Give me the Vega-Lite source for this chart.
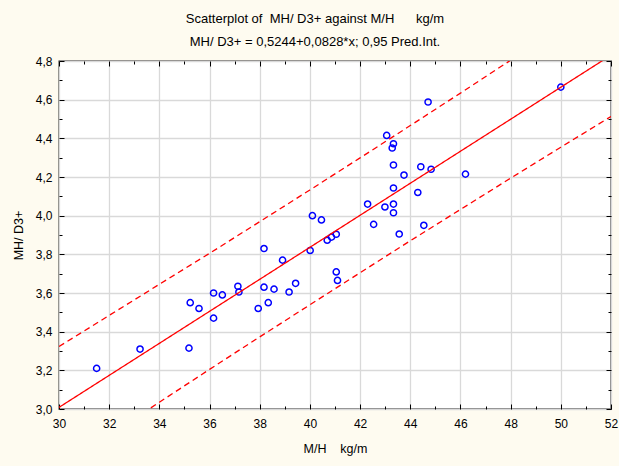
{
  "$schema": "https://vega.github.io/schema/vega-lite/v6.json",
  "width": 552,
  "height": 348,
  "autosize": "none",
  "padding": {"left": 59, "top": 61, "right": 8, "bottom": 57},
  "background": "#FEFBF0",
  "config": {
    "font": "Liberation Sans",
    "view": {"stroke": "black", "strokeWidth": 1.3, "fill": "white"}
  },
  "title": {
    "text": "Scatterplot of\u00a0\u00a0MH/ D3+ against M/H\u00a0\u00a0\u00a0\u00a0\u00a0\u00a0kg/m",
    "subtitle": "MH/ D3+ = 0,5244+0,0828*x; 0,95 Pred.Int.",
    "frame": "bounds",
    "anchor": "middle",
    "font": "Liberation Sans",
    "fontSize": 13,
    "fontWeight": "normal",
    "color": "black",
    "subtitleFont": "Liberation Sans",
    "subtitleFontSize": 13,
    "subtitleColor": "black",
    "subtitlePadding": 10,
    "offset": 6
  },
  "resolve": {"axis": {"x": "independent", "y": "independent"}},
  "layer": [
    {
      "data": {"values": [
        {"x": 31.50, "y": 3.21}, {"x": 33.23, "y": 3.31}, {"x": 35.18, "y": 3.315},
        {"x": 35.23, "y": 3.55}, {"x": 35.58, "y": 3.52}, {"x": 36.16, "y": 3.60},
        {"x": 36.16, "y": 3.47}, {"x": 36.51, "y": 3.59}, {"x": 37.13, "y": 3.635},
        {"x": 37.17, "y": 3.605}, {"x": 37.94, "y": 3.52}, {"x": 38.17, "y": 3.83},
        {"x": 38.17, "y": 3.63}, {"x": 38.34, "y": 3.55}, {"x": 38.57, "y": 3.62},
        {"x": 38.91, "y": 3.77}, {"x": 39.17, "y": 3.605}, {"x": 39.43, "y": 3.65},
        {"x": 40.01, "y": 3.82}, {"x": 40.10, "y": 4.00}, {"x": 40.46, "y": 3.978},
        {"x": 40.69, "y": 3.873}, {"x": 40.86, "y": 3.889}, {"x": 41.05, "y": 3.904},
        {"x": 41.05, "y": 3.709}, {"x": 41.10, "y": 3.665}, {"x": 42.30, "y": 4.06},
        {"x": 42.54, "y": 3.955}, {"x": 42.99, "y": 4.045}, {"x": 43.06, "y": 4.415},
        {"x": 43.33, "y": 4.372}, {"x": 43.28, "y": 4.35}, {"x": 43.33, "y": 4.262},
        {"x": 43.33, "y": 4.143}, {"x": 43.33, "y": 4.06}, {"x": 43.33, "y": 4.015},
        {"x": 43.56, "y": 3.905}, {"x": 43.75, "y": 4.21}, {"x": 44.30, "y": 4.12},
        {"x": 44.42, "y": 4.253}, {"x": 44.54, "y": 3.95}, {"x": 44.83, "y": 4.24},
        {"x": 44.71, "y": 4.588}, {"x": 46.20, "y": 4.215}, {"x": 50.00, "y": 4.665}
      ]},
      "mark": {"type": "point", "shape": "circle", "filled": false, "color": "#0000FF", "size": 38, "strokeWidth": 1.5, "opacity": 1},
      "encoding": {
        "x": {
          "field": "x", "type": "quantitative",
          "scale": {"domain": [30, 52], "nice": false, "zero": false},
          "axis": {
            "orient": "bottom",
            "title": "M/H\u00a0\u00a0\u00a0\u00a0kg/m",
            "titleFont": "Liberation Sans", "titleFontSize": 12.5, "titleFontWeight": "normal", "titleColor": "black",
            "titlePadding": 11,
            "values": [30,31,32,33,34,35,36,37,38,39,40,41,42,43,44,45,46,47,48,49,50,51,52],
            "labelExpr": "datum.value % 2 === 0 ? datum.label : ''",
            "labelFont": "Liberation Sans", "labelFontSize": 12, "labelColor": "black",
            "labelFlush": false, "labelOverlap": false, "labelPadding": 14,
            "domain": false,
            "grid": true,
            "gridColor": "#D9D9D9", "gridWidth": 1.3,
            "gridOpacity": {"condition": {"test": "datum.value % 2 === 0", "value": 1}, "value": 0},
            "ticks": true, "tickColor": "black", "tickWidth": 1,
            "tickSize": {"condition": {"test": "datum.value % 2 === 0", "value": -5}, "value": -3}
          }
        },
        "y": {
          "field": "y", "type": "quantitative",
          "scale": {"domain": [3.0, 4.8], "nice": false, "zero": false},
          "axis": {
            "orient": "left",
            "title": "MH/ D3+",
            "titleFont": "Liberation Sans", "titleFontSize": 12.5, "titleFontWeight": "normal", "titleColor": "black",
            "titlePadding": 10,
            "values": [3.0,3.1,3.2,3.3,3.4,3.5,3.6,3.7,3.8,3.9,4.0,4.1,4.2,4.3,4.4,4.5,4.6,4.7,4.8],
            "labelExpr": "round(datum.value*10) % 2 === 0 ? replace(format(datum.value, '.1f'), '.', ',') : ''",
            "labelFont": "Liberation Sans", "labelFontSize": 12, "labelColor": "black",
            "labelFlush": false, "labelOverlap": false, "labelPadding": 12,
            "domain": false,
            "grid": true,
            "gridColor": "#D9D9D9", "gridWidth": 1.3,
            "gridOpacity": {"condition": {"test": "round(datum.value*10) % 2 === 0", "value": 1}, "value": 0},
            "ticks": true, "tickColor": "black", "tickWidth": 1,
            "tickSize": {"condition": {"test": "round(datum.value*10) % 2 === 0", "value": -5}, "value": -3}
          }
        }
      }
    },
    {
      "data": {"values": [
        {"x": 30, "y": 3.0084, "series": "fit"},
        {"x": 52, "y": 4.830, "series": "fit"},
        {"x": 30, "y": 3.323, "series": "upper"},
        {"x": 32, "y": 3.484, "series": "upper"},
        {"x": 34, "y": 3.645, "series": "upper"},
        {"x": 36, "y": 3.805, "series": "upper"},
        {"x": 38, "y": 3.969, "series": "upper"},
        {"x": 40, "y": 4.133, "series": "upper"},
        {"x": 42, "y": 4.299, "series": "upper"},
        {"x": 44, "y": 4.466, "series": "upper"},
        {"x": 46, "y": 4.634, "series": "upper"},
        {"x": 48, "y": 4.804, "series": "upper"},
        {"x": 50, "y": 4.974, "series": "upper"},
        {"x": 30, "y": 2.693, "series": "lower"},
        {"x": 32, "y": 2.864, "series": "lower"},
        {"x": 34, "y": 3.035, "series": "lower"},
        {"x": 36, "y": 3.205, "series": "lower"},
        {"x": 38, "y": 3.373, "series": "lower"},
        {"x": 40, "y": 3.539, "series": "lower"},
        {"x": 42, "y": 3.705, "series": "lower"},
        {"x": 44, "y": 3.870, "series": "lower"},
        {"x": 46, "y": 4.032, "series": "lower"},
        {"x": 48, "y": 4.194, "series": "lower"},
        {"x": 50, "y": 4.354, "series": "lower"},
        {"x": 52, "y": 4.513, "series": "lower"}
      ]},
      "mark": {"type": "line", "color": "#FF0000", "strokeWidth": 1.3, "clip": true},
      "encoding": {
        "x": {
          "field": "x", "type": "quantitative",
          "axis": {
            "orient": "top", "title": null, "labels": false, "grid": false, "domain": false,
            "values": [30,31,32,33,34,35,36,37,38,39,40,41,42,43,44,45,46,47,48,49,50,51,52],
            "tickColor": "black", "tickWidth": 1,
            "tickSize": {"condition": {"test": "datum.value % 2 === 0", "value": -5}, "value": -3}
          }
        },
        "y": {
          "field": "y", "type": "quantitative",
          "axis": {
            "orient": "right", "title": null, "labels": false, "grid": false, "domain": false,
            "values": [3.0,3.1,3.2,3.3,3.4,3.5,3.6,3.7,3.8,3.9,4.0,4.1,4.2,4.3,4.4,4.5,4.6,4.7,4.8],
            "tickColor": "black", "tickWidth": 1,
            "tickSize": {"condition": {"test": "round(datum.value*10) % 2 === 0", "value": -5}, "value": -3}
          }
        },
        "detail": {"field": "series"},
        "strokeDash": {
          "field": "series", "type": "nominal",
          "scale": {"domain": ["fit", "upper", "lower"], "range": [[1, 0], [6, 4], [6, 4]]},
          "legend": null
        }
      }
    }
  ]
}
